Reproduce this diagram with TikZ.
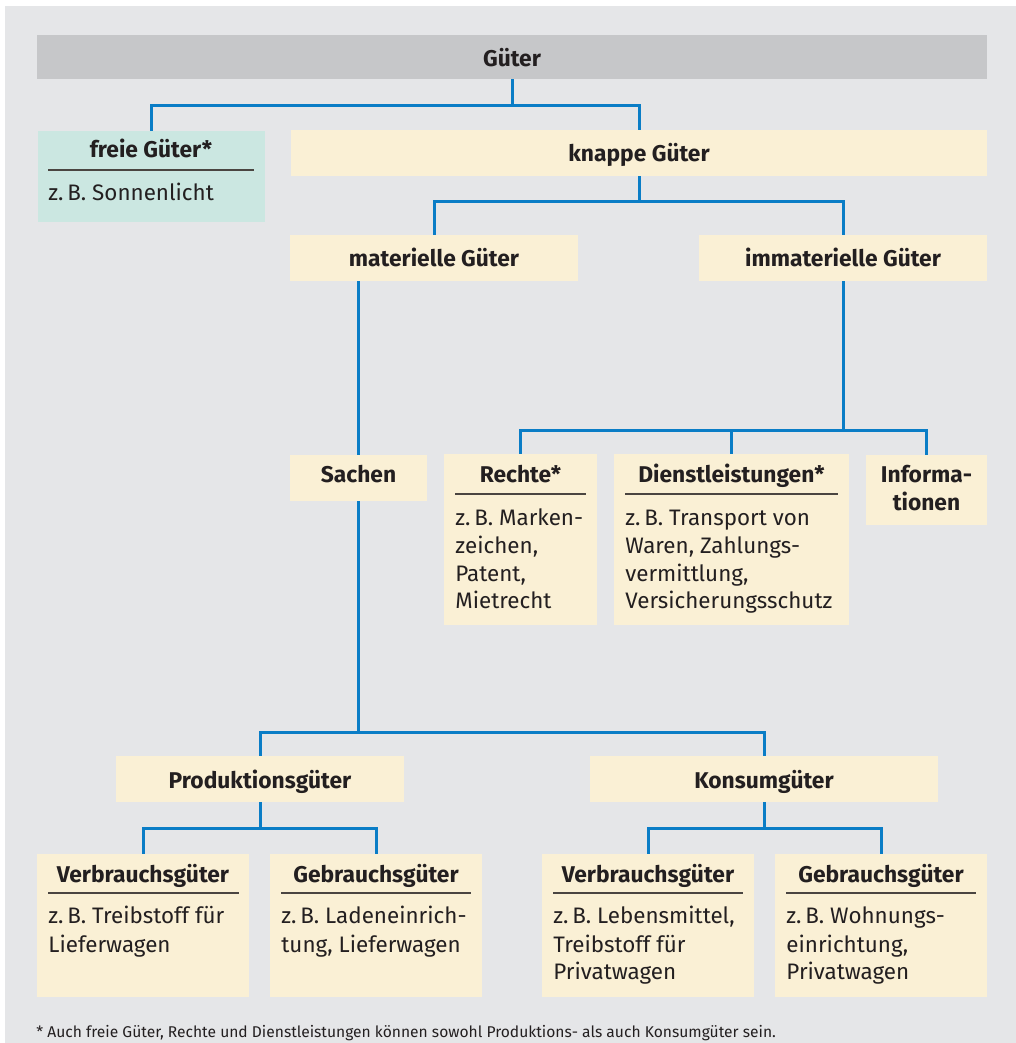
\documentclass[tikz,border=0pt]{standalone}
\usepackage{fontspec}
\setmainfont{Fira Sans}
\usetikzlibrary{fit}
\definecolor{bgc}{HTML}{E5E6E8}
\definecolor{barc}{HTML}{C6C7C9}
\definecolor{creamc}{HTML}{FAF0D5}
\definecolor{tealc}{HTML}{CBE7E1}
\definecolor{connc}{HTML}{0A7DC6}
\definecolor{inkc}{HTML}{231F20}
\definecolor{rulec}{HTML}{4A4541}
\newcommand\bodyf{\fontsize{11.2}{14}\selectfont}
\newcommand\titf{\fontsize{11.4}{14}\selectfont\bfseries}
\begin{document}
\begin{tikzpicture}[x=0.5pt,y=-0.5pt,
  panel/.style={fill=bgc,inner sep=0pt,draw=none},
  box/.style={fill=creamc,inner sep=0pt,draw=none},
  tbox/.style={fill=tealc,inner sep=0pt,draw=none},
  gbar/.style={fill=barc,inner sep=0pt,draw=none},
  tit/.style={anchor=base,inner sep=0pt,text=inkc,font=\titf},
  txt/.style={anchor=base west,inner sep=0pt,text=inkc,font=\bodyf},
  foot/.style={anchor=base west,inner sep=0pt,text=inkc,font=\fontsize{7.8}{9}\selectfont},
  conn/.style={draw=connc,line width=1.5pt,line join=miter},
  hrule/.style={draw=rulec,line width=0.8pt}]
\useasboundingbox (0,0) rectangle (1016,1043);
\fill[white] (0,0) rectangle (1016,1043);
\node[panel,fit={(5,6) (1016,1043)}] (panel) {};
% connectors
\coordinate (j1) at (512,106);
\coordinate (j2) at (639,202);
\coordinate (j3) at (358.5,732);
\coordinate (j4) at (843,430);
\coordinate (j5) at (260,828);
\coordinate (j6) at (764,828);
% boxes
\node[gbar,fit={(37,35) (987,79)}] (gueter) {};
\node[tbox,fit={(38,131) (265,222)}] (freie) {};
\node[box,fit={(291,130) (987,176)}] (knappe) {};
\node[box,fit={(290,235) (578,281)}] (mat) {};
\node[box,fit={(699,235) (987,281)}] (immat) {};
\node[box,fit={(290,455) (427,501)}] (sachen) {};
\node[box,fit={(444,454) (597,625)}] (rechte) {};
\node[box,fit={(614,454) (849,625)}] (dienst) {};
\node[box,fit={(866,455) (987,525)}] (info) {};
\node[box,fit={(116,756) (404,802)}] (prod) {};
\node[box,fit={(590,756) (938,802)}] (konsum) {};
\node[box,fit={(37,854) (249,997)}] (vl) {};
\node[box,fit={(270,854) (482,997)}] (gl) {};
\node[box,fit={(542,854) (754,997)}] (vr) {};
\node[box,fit={(775,854) (987,997)}] (gr) {};
\draw[conn] (gueter.south) -- (j1);
\draw[conn] (freie.north) |- (j1) -| (knappe.north);
\draw[conn] (knappe.south) -- (j2);
\draw[conn] (mat.north) |- (j2) -| (immat.north);
\draw[conn] (sachen.north) -- (sachen.north |- mat.south);
\draw[conn] (sachen.south) -- (j3);
\draw[conn] (prod.north) |- (j3) -| (konsum.north);
\draw[conn] (immat.south) -- (j4);
\draw[conn] (rechte.north) |- (j4) -| (info.north);
\draw[conn] (dienst.north) -- (dienst.north |- j4);
\draw[conn] (prod.south) -- (j5);
\draw[conn] (vl.north) |- (j5) -| (gl.north);
\draw[conn] (konsum.south) -- (j6);
\draw[conn] (vr.north) |- (j6) -| (gr.north);
% titles
\node[tit] (tGueter) at (512,67) {Güter};
\node[tit] (tFreie) at (151,158) {freie Güter*};
\node[tit] (tKnappe) at (639,162) {knappe Güter};
\node[tit] (tMat) at (434,266) {materielle Güter};
\node[tit] (tImmat) at (843,266) {immaterielle Güter};
\node[tit] (tSachen) at (358.5,482) {Sachen};
\node[tit] (tRechte) at (520.5,482) {Rechte*};
\node[tit] (tDienst) at (731.5,482) {Dienstleistungen*};
\node[tit] (tInfo1) at (926.5,482) {Informa-};
\node[tit] (tInfo2) at (926.5,510) {tionen};
\node[tit] (tProd) at (260,788) {Produktionsgüter};
\node[tit] (tKonsum) at (764,788) {Konsumgüter};
\node[tit] (tVL) at (143,882) {Verbrauchsgüter};
\node[tit] (tGL) at (376,882) {Gebrauchsgüter};
\node[tit] (tVR) at (648,882) {Verbrauchsgüter};
\node[tit] (tGR) at (881,882) {Gebrauchsgüter};
% rules
\draw[hrule] (48,170) -- (254,170);
\draw[hrule] (455,494) -- (586,494);
\draw[hrule] (625,494) -- (838,494);
\draw[hrule] (48,893) -- (239,893);
\draw[hrule] (281,893) -- (471,893);
\draw[hrule] (553,893) -- (743,893);
\draw[hrule] (786,893) -- (976,893);
% body texts
\node[txt] (bFreie) at (48,201) {z.\,B. Sonnenlicht};
\node[txt] (bR1) at (455,525) {z.\,B. Marken-};
\node[txt] (bR2) at (455,553) {zeichen,};
\node[txt] (bR3) at (455,581) {Patent,};
\node[txt] (bR4) at (455,608) {Mietrecht};
\node[txt] (bD1) at (625,525) {z.\,B. Transport von};
\node[txt] (bD2) at (625,553) {Waren, Zahlungs-};
\node[txt] (bD3) at (625,581) {vermittlung,};
\node[txt] (bD4) at (625,608) {Versicherungsschutz};
\node[txt] (bVL1) at (48,923) {z.\,B. Treibstoff für};
\node[txt] (bVL2) at (48,952) {Lieferwagen};
\node[txt] (bGL1) at (281,923) {z.\,B. Ladeneinrich-};
\node[txt] (bGL2) at (281,952) {tung, Lieferwagen};
\node[txt] (bVR1) at (553,923) {z.\,B. Lebensmittel,};
\node[txt] (bVR2) at (553,952) {Treibstoff für};
\node[txt] (bVR3) at (553,979) {Privatwagen};
\node[txt] (bGR1) at (786,923) {z.\,B. Wohnungs-};
\node[txt] (bGR2) at (786,952) {einrichtung,};
\node[txt] (bGR3) at (786,979) {Privatwagen};
\node[foot] (fn) at (36,1037) {* Auch freie Güter, Rechte und Dienstleistungen können sowohl Produktions- als auch Konsumgüter sein.};
\end{tikzpicture}
\end{document}
